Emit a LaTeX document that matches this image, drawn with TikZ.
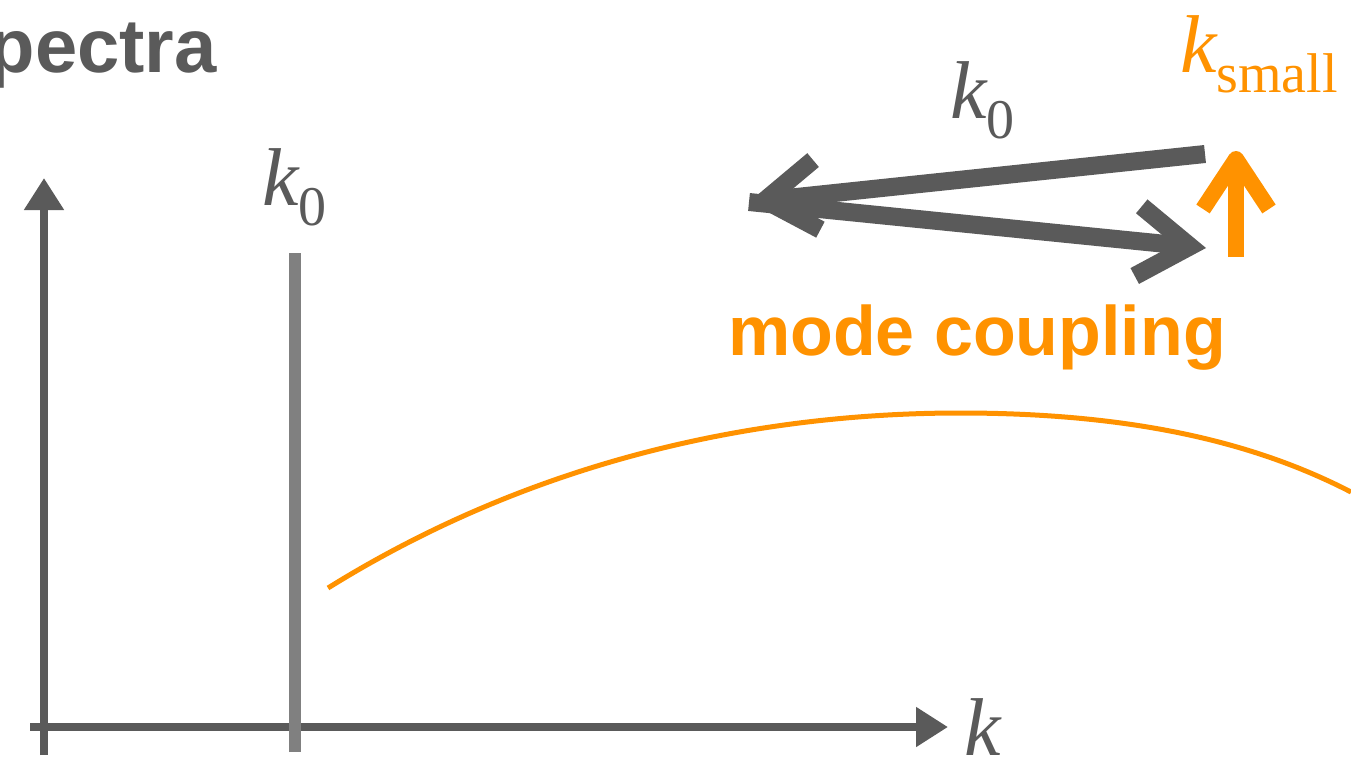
\documentclass[tikz,border=0pt]{standalone}
\usepackage{fontspec}
\setmainfont{Liberation Sans}
\newfontfamily\kfont{Liberation Serif}
\usetikzlibrary{arrows.meta, positioning}
\definecolor{cdark}{HTML}{5A5A5A}
\definecolor{cpeak}{HTML}{808080}
\definecolor{corange}{HTML}{FF9200}
\newcommand{\wavenum}[1]{{\kfont\itshape k}{\kfont\raisebox{-20pt}{\fontsize{56}{56}\selectfont #1}}}
\tikzset{
  every picture/.style={x=1pt, y=-1pt},
  axisline/.style={draw=cdark, line width=8pt, -{Triangle[length=32pt, width=38pt]}},
  peakline/.style={draw=cpeak, line width=12pt},
  spectrum/.style={draw=corange, line width=5pt},
  kvector/.style={draw=cdark, line width=18pt, -{Straight Barb[length=52pt, width=70pt]}},
  kshift/.style={draw=corange, line width=16pt, -{Straight Barb[length=50pt, width=66pt, line join=round]}},
  klabel/.style={inner sep=0pt, font=\kfont\fontsize{82}{82}\selectfont, text=cdark},
  title/.style={inner sep=0pt, font=\bfseries\fontsize{70}{70}\selectfont, text=cdark},
}
\begin{document}
\begin{tikzpicture}
  \useasboundingbox (0,0) rectangle (1351,771);
  % axes
  \coordinate (ybot) at (44,755);
  \coordinate (ytop) at (44,178);
  \coordinate (xleft) at (30,727);
  \coordinate (xright) at (948,727);
  \draw[axisline] (ybot) -- (ytop);
  \draw[axisline] (xleft) -- (xright);
  \node[klabel, anchor=base west] (kaxis) at (964,755) {\itshape k};
  \node[title, anchor=base east, font=\bfseries\fontsize{76}{76}\selectfont] (spectra) at (217,72) {pectra};
  % the single mode
  \coordinate (peaktop) at (295,253);
  \coordinate (peakbot) at (295,752);
  \draw[peakline] (peakbot) -- (peaktop);
  \node[klabel, anchor=base west] (kpeak) at (262,205) {\wavenum{0}};
  % broad spectrum
  \draw[spectrum] (328,588) .. controls (550,450) and (780,413) .. (960,413)
    .. controls (1140,413) and (1260,445) .. (1351,492);
  % triangle of wave vectors
  \coordinate (kA) at (1205,154);
  \coordinate (kB) at (749,202);
  \coordinate (kC) at (1206,248);
  \draw[kvector] (kA) -- (kB);
  \draw[kvector] (kB) -- (kC);
  \node[klabel, anchor=base west] (kvec) at (950,118) {\wavenum{0}};
  \coordinate (sA) at (1236,257);
  \coordinate (sB) at (1236,151);
  \draw[kshift] (sA) -- (sB);
  \node[klabel, anchor=base west, text=corange] (ksmall) at (1180,72) {\wavenum{small}};
  \node[title, anchor=base west, text=corange] (coupling) at (728,355) {mode coupling};
\end{tikzpicture}
\end{document}
